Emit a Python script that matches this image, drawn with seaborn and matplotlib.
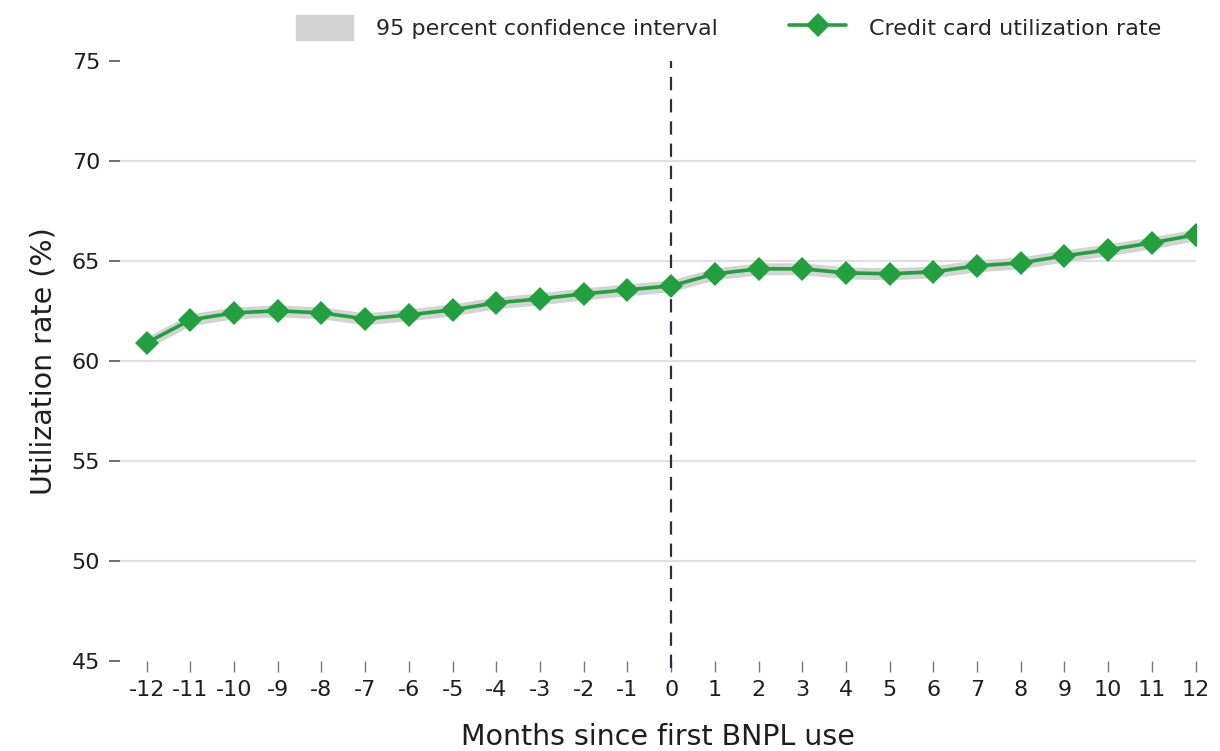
import matplotlib
matplotlib.use("Agg")
import matplotlib.pyplot as plt
from matplotlib.patches import Patch
from matplotlib.lines import Line2D
import numpy as np
import pandas as pd
import seaborn as sns

# Months relative to first BNPL use
months = [-12, -11, -10, -9, -8, -7, -6, -5, -4, -3, -2, -1, 0,
          1, 2, 3, 4, 5, 6, 7, 8, 9, 10, 11, 12]

# Credit card utilization rate (%)
utilization = [60.9, 62.05, 62.4, 62.5, 62.4, 62.1, 62.3, 62.55, 62.9, 63.1, 63.35, 63.55, 63.75,
               64.35, 64.6, 64.6, 64.4, 64.35, 64.45, 64.75, 64.9, 65.25, 65.55, 65.9, 66.3]

# 95 percent confidence interval bounds
ci_lower = [60.6, 61.75, 62.1, 62.2, 62.1, 61.8, 62.0, 62.25, 62.6, 62.8, 63.05, 63.25, 63.45,
            64.05, 64.3, 64.3, 64.1, 64.05, 64.15, 64.45, 64.6, 64.95, 65.25, 65.6, 66.0]
ci_upper = [61.2, 62.35, 62.7, 62.8, 62.7, 62.4, 62.6, 62.85, 63.2, 63.4, 63.65, 63.85, 64.05,
            64.65, 64.9, 64.9, 64.7, 64.65, 64.75, 65.05, 65.2, 65.55, 65.85, 66.2, 66.6]

y_ticks = [45, 50, 55, 60, 65, 70, 75]

df = pd.DataFrame({"month": months, "rate": utilization,
                   "lo": ci_lower, "hi": ci_upper})

sns.set_theme(style="white")
plt.rcParams["font.family"] = ["DejaVu Sans"]

green = "#22a03f"
band_color = "#d3d3d3"
text_color = "#1e1e1e"

fig = plt.figure(figsize=(12.2, 7.51), dpi=100)
ax = fig.add_axes([0.098, 0.12, 0.882, 0.799])

# horizontal reference lines
for yv in y_ticks[1:-1]:
    ax.axhline(yv, color="#e0e0e0", lw=1.6, zorder=0)

ax.fill_between(df["month"], df["lo"], df["hi"], color=band_color, lw=0, zorder=1)
sns.lineplot(data=df, x="month", y="rate", ax=ax, color=green, lw=2.6,
             marker="D", markersize=12, markeredgewidth=0, zorder=3)

# event marker at first BNPL use
ax.axvline(0, ymin=-0.012, ymax=1.0, color="#2b2f3a", lw=1.6, ls=(0, (6, 4)),
           zorder=2, clip_on=False)

ax.set_xlim(-12.62, 12.0)
ax.set_ylim(45, 75)
ax.set_xticks(months)
ax.set_xticklabels([str(m) for m in months])
ax.set_yticks(y_ticks)

for s in ax.spines.values():
    s.set_visible(False)

ax.tick_params(axis="y", which="major", left=True, length=8, width=1.2,
               color="#555555", pad=6, labelsize=16, labelcolor=text_color)
ax.tick_params(axis="x", which="major", bottom=True, length=8, width=1.0,
               color="#777777", pad=6, labelsize=16, labelcolor=text_color)

ax.set_xlabel("Months since first BNPL use", fontsize=20.5, labelpad=16, color=text_color)
ax.set_ylabel("Utilization rate (%)", fontsize=20.5, labelpad=10, color=text_color)

handles = [
    Patch(facecolor=band_color, edgecolor=band_color, label="95 percent confidence interval"),
    Line2D([0], [0], color=green, lw=2.6, marker="D", markersize=12,
           markeredgewidth=0, label="Credit card utilization rate"),
]
fig.legend(handles=handles, loc="upper center", bbox_to_anchor=(0.597, 1.006), ncol=2,
           frameon=False, fontsize=16.0, handlelength=2.6, handleheight=1.3,
           columnspacing=3.2, handletextpad=1.0)

fig.savefig("out.png", dpi=100)
